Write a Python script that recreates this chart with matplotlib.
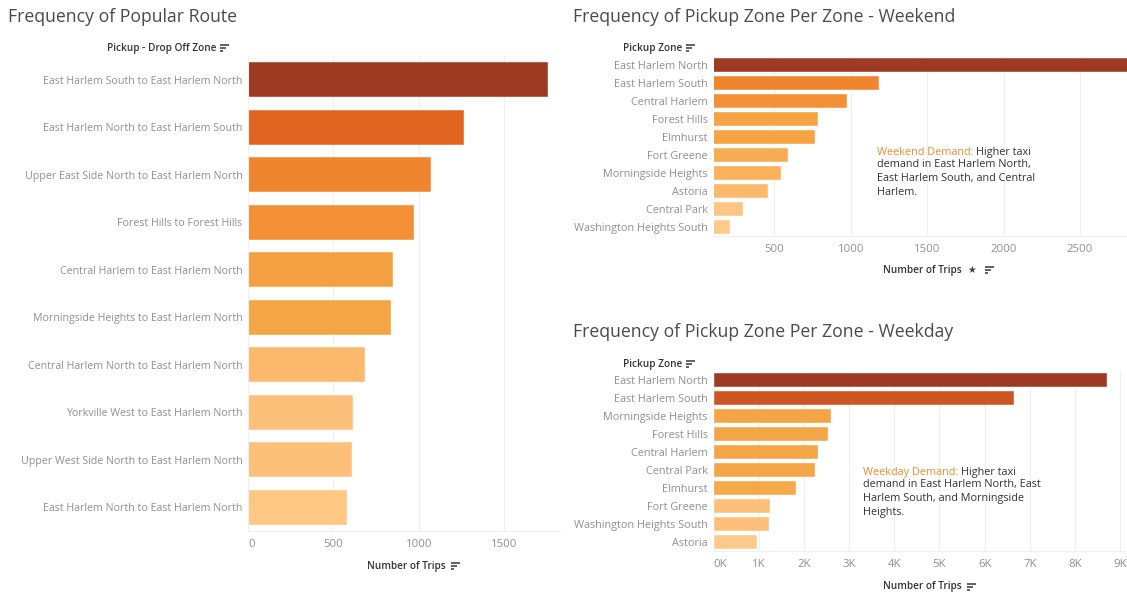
import matplotlib
matplotlib.use("Agg")
import matplotlib.pyplot as plt
from matplotlib.lines import Line2D

plt.rcParams['font.family'] = ['Open Sans', 'DejaVu Sans']

# ---------------- data ----------------
route_labels = [
    "East Harlem South to East Harlem North",
    "East Harlem North to East Harlem South",
    "Upper East Side North to East Harlem North",
    "Forest Hills to Forest Hills",
    "Central Harlem to East Harlem North",
    "Morningside Heights to East Harlem North",
    "Central Harlem North to East Harlem North",
    "Yorkville West to East Harlem North",
    "Upper West Side North to East Harlem North",
    "East Harlem North to East Harlem North",
]
route_trips = [1754, 1263, 1070, 971, 848, 837, 686, 613, 609, 582]

weekend_zones = [
    "East Harlem North", "East Harlem South", "Central Harlem", "Forest Hills",
    "Elmhurst", "Fort Greene", "Morningside Heights", "Astoria",
    "Central Park", "Washington Heights South",
]
weekend_trips = [2950, 1184, 974, 787, 763, 588, 541, 459, 294, 207]

weekday_zones = [
    "East Harlem North", "East Harlem South", "Morningside Heights", "Forest Hills",
    "Central Harlem", "Central Park", "Elmhurst", "Fort Greene",
    "Washington Heights South", "Astoria",
]
weekday_trips = [8710, 6640, 2610, 2540, 2320, 2240, 1820, 1250, 1230, 970]

left_ticks = [0, 500, 1000, 1500]
weekend_ticks = [500, 1000, 1500, 2000, 2500]
weekday_ticks = [0, 1000, 2000, 3000, 4000, 5000, 6000, 7000, 8000, 9000]
weekday_ticklabels = ["0K", "1K", "2K", "3K", "4K", "5K", "6K", "7K", "8K", "9K"]

# ---------------- styles ----------------
route_colors = ["#9E3A22", "#E16421", "#F08530", "#F38F35", "#F5A040",
                "#F4A546", "#FBB96E", "#FDC07A", "#FDC07A", "#FEC784"]
weekend_colors = ["#9E3A22", "#F08530", "#F39137", "#F5A343", "#F5A343",
                  "#F7AC52", "#F9B15C", "#FBB96C", "#FDC684", "#FECA8C"]
weekday_colors = ["#9E3A22", "#CD5523", "#F4A546", "#F4A546", "#F4A546",
                  "#F4A546", "#F5A84C", "#FDC07A", "#FDC07A", "#FEC98A"]

W, H = 1127, 596
fig = plt.figure(figsize=(W / 100, H / 100), dpi=100)
fig.patch.set_facecolor("white")

TICK_C = "#8f8f8f"
TITLE_C = "#4a4a4a"
HEAD_C = "#333333"
GRID_C = "#efefef"


def box(x0, y0, x1, y1):
    return [x0 / W, 1 - y1 / H, (x1 - x0) / W, (y1 - y0) / H]


def fx(x):
    return x / W


def fy(y):
    return 1 - y / H


def sort_icon(x, y):
    for i, ln in enumerate([9, 6, 3]):
        yy = y - 3 + i * 3
        fig.add_artist(Line2D([fx(x), fx(x + ln)], [fy(yy), fy(yy)],
                              color="#555555", lw=1.3, solid_capstyle="butt"))


def style_ax(ax, labels, ticks, xlim, lsize):
    ax.set_xlim(*xlim)
    ax.set_ylim(len(labels) - 0.5, -0.5)
    ax.set_yticks(range(len(labels)))
    ax.set_yticklabels(labels, color=TICK_C, fontsize=lsize)
    ax.set_xticks(ticks)
    ax.tick_params(axis="both", length=0)
    ax.tick_params(axis="x", colors=TICK_C, labelsize=8.2, pad=6)
    ax.tick_params(axis="y", pad=4)
    for s in ["top", "right", "left"]:
        ax.spines[s].set_visible(False)
    ax.spines["bottom"].set_color("#f0f0f0")
    ax.grid(axis="x", color=GRID_C, lw=0.8)
    ax.set_axisbelow(True)


# ---------------- left chart ----------------
ax1 = fig.add_axes(box(248, 56, 560, 531))
ax1.barh(range(len(route_labels)), route_trips, height=0.74, color=route_colors,
         edgecolor="white", linewidth=0.3)
style_ax(ax1, route_labels, left_ticks, (0, 1825), 7.7)
ax1.spines["left"].set_visible(True)
ax1.spines["left"].set_color("#f0f0f0")
ax1.set_xticklabels([str(t) for t in left_ticks])
ax1.get_xticklabels()[0].set_ha("left")

fig.text(fx(8), fy(17), "Frequency of Popular Route", fontsize=12.7,
         color=TITLE_C, va="center", ha="left")
fig.text(fx(216), fy(48), "Pickup - Drop Off Zone", fontsize=7.2,
         color=HEAD_C, va="center", ha="right", fontweight="semibold")
sort_icon(220, 48)
fig.text(fx(446), fy(566), "Number of Trips", fontsize=7.2,
         color=HEAD_C, va="center", ha="right", fontweight="semibold")
sort_icon(451, 566)

# ---------------- weekend chart ----------------
ax2 = fig.add_axes(box(713.5, 56, 1127, 236))
ax2.barh(range(len(weekend_zones)), weekend_trips, height=0.74,
         color=weekend_colors, left=0, edgecolor="white", linewidth=0.3)
style_ax(ax2, weekend_zones, weekend_ticks, (102, 2808), 7.8)
ax2.set_xticklabels([str(t) for t in weekend_ticks])

fig.text(fx(573), fy(17), "Frequency of Pickup Zone Per Zone - Weekend",
         fontsize=12.7, color=TITLE_C, va="center", ha="left")
fig.text(fx(682), fy(48), "Pickup Zone", fontsize=7.2,
         color=HEAD_C, va="center", ha="right", fontweight="semibold")
sort_icon(686, 48)
fig.text(fx(962), fy(270), "Number of Trips", fontsize=7.2,
         color=HEAD_C, va="center", ha="right", fontweight="semibold")
fig.text(fx(972), fy(270), "\u2605", fontsize=7, color="#444444",
         va="center", ha="center", family=["DejaVu Sans"])
sort_icon(985, 270)

t1 = fig.text(fx(877), fy(152), "Weekend Demand:", fontsize=7.8,
              color="#F28A2E", va="center", ha="left")
fig.canvas.draw()
ren = fig.canvas.get_renderer()
bb = t1.get_window_extent(ren)
fig.text(bb.x1 / W + 2.5 / W, fy(152), "Higher taxi", fontsize=7.8,
         color="#333333", va="center", ha="left")
fig.text(fx(877), fy(159.5), "demand in East Harlem North,\nEast Harlem South, and Central\nHarlem.",
         fontsize=7.8, color="#333333", va="top", ha="left", linespacing=1.32)

# ---------------- weekday chart ----------------
ax3 = fig.add_axes(box(713.5, 371, 1127, 551))
ax3.barh(range(len(weekday_zones)), weekday_trips, height=0.74,
         color=weekday_colors, edgecolor="white", linewidth=0.3)
style_ax(ax3, weekday_zones, weekday_ticks, (0, 9150), 7.8)
ax3.set_xticklabels(weekday_ticklabels)
ax3.get_xticklabels()[0].set_ha("left")

fig.text(fx(573), fy(332), "Frequency of Pickup Zone Per Zone - Weekday",
         fontsize=12.7, color=TITLE_C, va="center", ha="left")
fig.text(fx(682), fy(364), "Pickup Zone", fontsize=7.2,
         color=HEAD_C, va="center", ha="right", fontweight="semibold")
sort_icon(686, 364)
fig.text(fx(962), fy(587), "Number of Trips", fontsize=7.2,
         color=HEAD_C, va="center", ha="right", fontweight="semibold")
sort_icon(967, 587)

t2 = fig.text(fx(863), fy(472), "Weekday Demand:", fontsize=7.8,
              color="#F28A2E", va="center", ha="left")
fig.canvas.draw()
bb2 = t2.get_window_extent(fig.canvas.get_renderer())
fig.text(bb2.x1 / W + 2.5 / W, fy(472), "Higher taxi", fontsize=7.8,
         color="#333333", va="center", ha="left")
fig.text(fx(863), fy(479.5), "demand in East Harlem North, East\nHarlem South, and Morningside\nHeights.",
         fontsize=7.8, color="#333333", va="top", ha="left", linespacing=1.32)

fig.savefig("out.png", dpi=100, facecolor="white")
